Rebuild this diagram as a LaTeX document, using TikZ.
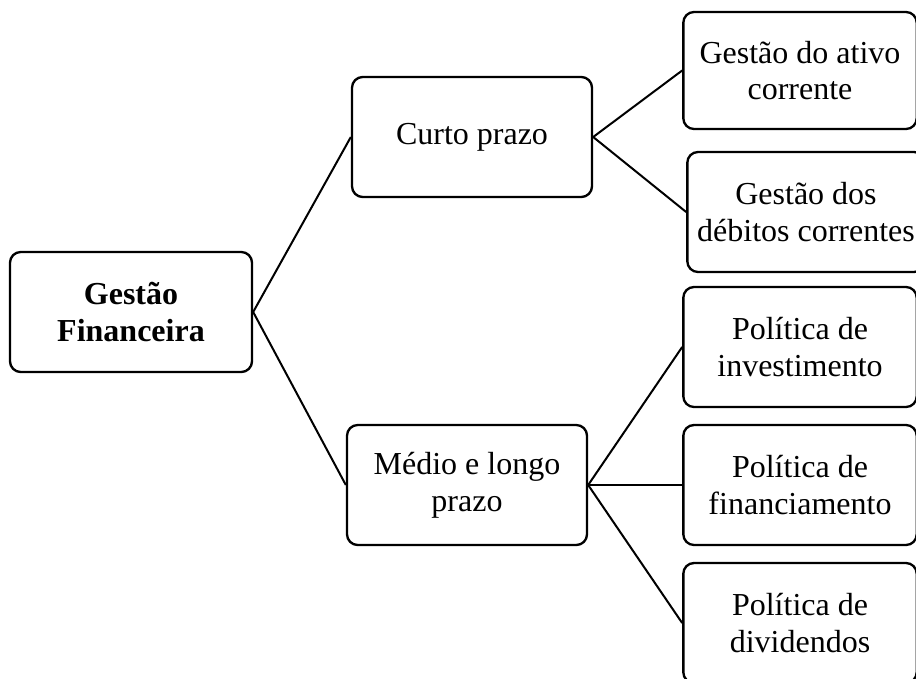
\documentclass[tikz,border=0pt]{standalone}
\usepackage{fontspec}
\setmainfont{Liberation Serif}
\usetikzlibrary{positioning}

\begin{document}
\begin{tikzpicture}[x=0.75pt,y=-0.75pt,
	box/.style={draw, line width=1.75pt, rounded corners=8pt, align=center, inner sep=2pt, font=\fontsize{24}{27.6}\selectfont},
	mid/.style={box, minimum width=180pt, minimum height=90pt},
	leaf/.style={box, minimum width=175pt, minimum height=90pt},
	link/.style={line width=1.5pt}]
	\useasboundingbox (0,0) rectangle (916,678);
	\clip (0,0) rectangle (916,678);
	% root
	\node (gf) [mid, minimum width=181.5pt, font=\fontsize{24}{27.6}\selectfont\bfseries] at (131,312) {Gestão\\Financeira};
	% horizons
	\node (cp) [mid] at (472,137) {Curto prazo};
	\node (ml) [mid] at (467,485) {Médio e longo\\prazo};
	% leaves
	\node (ac) [leaf, minimum height=87.75pt] at (800,70.5) {Gestão do ativo\\corrente};
	\node (dc) [leaf, minimum width=178pt] at (806,212) {Gestão dos\\débitos correntes};
	\node (inv) [leaf] at (800,347) {Política de\\investimento};
	\node (fin) [leaf] at (800,485) {Política de\\financiamento};
	\node (div) [leaf] at (800,623) {Política de\\dividendos};
	\draw [link] (gf.east) -- (cp.west);
	\draw [link] (gf.east) -- (ml.west);
	\foreach \n in {ac,dc}
		\draw [link] (cp.east) -- (\n.west);
	\foreach \n in {inv,fin,div}
		\draw [link] (ml.east) -- (\n.west);
\end{tikzpicture}
\end{document}
